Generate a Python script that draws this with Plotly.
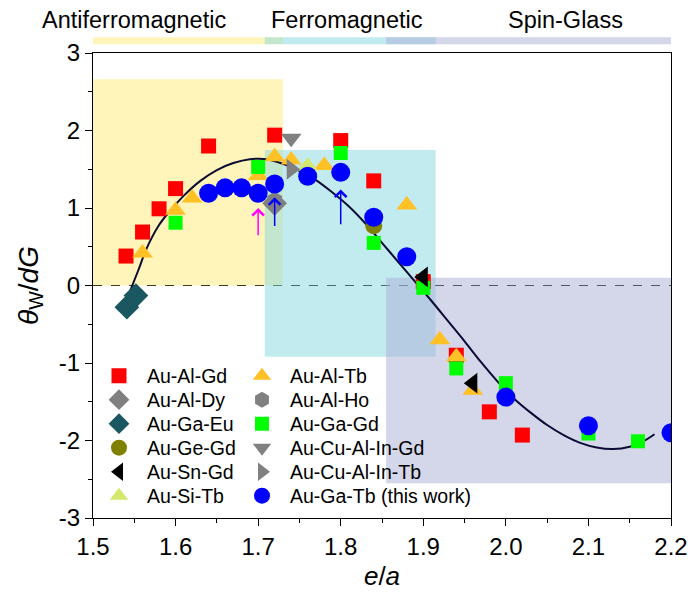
import plotly.graph_objects as go

FONT = "Arial, Liberation Sans, sans-serif"

# ---------------- data ----------------
al_gd_x = [1.54, 1.56, 1.58, 1.60, 1.64, 1.72, 1.80, 1.84, 1.90, 1.94, 1.98, 2.02]
al_gd_y = [0.38, 0.69, 0.99, 1.25, 1.80, 1.94, 1.87, 1.35, 0.05, -0.90, -1.63, -1.93]

al_tb_x = [1.56, 1.60, 1.62, 1.70, 1.72, 1.74, 1.78, 1.88, 1.92, 1.94, 1.96]
al_tb_y = [0.42, 0.97, 1.13, 1.42, 1.66, 1.62, 1.55, 1.04, -0.70, -0.92, -1.35]

al_dy_x = [1.72]
al_dy_y = [1.06]

al_ho_x = [1.72]
al_ho_y = [1.10]

ga_eu_x = [1.541, 1.552]
ga_eu_y = [-0.28, -0.13]

ga_gd_x = [1.60, 1.70, 1.80, 1.84, 1.90, 1.94, 2.00, 2.10, 2.16]
ga_gd_y = [0.81, 1.53, 1.71, 0.55, -0.03, -1.07, -1.26, -1.91, -2.01]

ge_gd_x = [1.84]
ge_gd_y = [0.77]

cu_al_in_gd_x = [1.74]
cu_al_in_gd_y = [1.90]

sn_gd_x = [1.90, 1.96]
sn_gd_y = [0.11, -1.26]

cu_al_in_tb_x = [1.74]
cu_al_in_tb_y = [1.50]

si_tb_x = [1.76]
si_tb_y = [1.54]

ga_tb_x = [1.64, 1.66, 1.68, 1.70, 1.72, 1.76, 1.80, 1.84, 1.88, 2.00, 2.10, 2.20]
ga_tb_y = [1.19, 1.26, 1.26, 1.19, 1.31, 1.41, 1.46, 0.88, 0.37, -1.44, -1.81, -1.90]

# guide curve
curve_x = [1.542, 1.555, 1.565, 1.58, 1.593, 1.61, 1.63, 1.65, 1.67, 1.69, 1.71,
           1.73, 1.75, 1.77, 1.79, 1.81, 1.83, 1.85, 1.87, 1.89, 1.91, 1.93,
           1.95, 1.97, 1.99, 2.01, 2.03, 2.05, 2.07, 2.09, 2.11, 2.13, 2.15,
           2.165, 2.18]
curve_y = [-0.15, 0.20, 0.48, 0.78, 0.96, 1.16, 1.35, 1.49, 1.58, 1.63, 1.63,
           1.57, 1.48, 1.36, 1.20, 1.02, 0.80, 0.55, 0.30, 0.05, -0.20, -0.46,
           -0.72, -0.99, -1.24, -1.46, -1.64, -1.80, -1.93, -2.03, -2.09, -2.11,
           -2.08, -2.02, -1.92]

# arrows (x, tail y, head y, colour)
arrow_x = [1.70, 1.72, 1.80]
arrow_y0 = [0.63, 0.75, 0.77]
arrow_y1 = [1.00, 1.14, 1.24]
arrow_col = ["#FF00FF", "#0000FF", "#0000FF"]

# regions
region_names = ["Antiferromagnetic", "Ferromagnetic", "Spin-Glass"]
region_label_x = [1.550, 1.808, 2.072]
region_x0 = [1.50, 1.708, 1.855]
region_x1 = [1.73, 1.915, 2.20]
region_y0 = [0.0, -0.92, -2.55]
region_y1 = [2.66, 1.75, 0.10]
region_col = ["#FFEB75", "#85D7E1", "#A9ADD3"]

x_ticks = [1.5, 1.6, 1.7, 1.8, 1.9, 2.0, 2.1, 2.2]
x_tick_labels = ["1.5", "1.6", "1.7", "1.8", "1.9", "2.0", "2.1", "2.2"]
y_ticks = [-3, -2, -1, 0, 1, 2, 3]
y_tick_labels = ["-3", "-2", "-1", "0", "1", "2", "3"]

# legend layout: two columns of six
legend_col1 = ["Au-Al-Gd", "Au-Al-Dy", "Au-Ga-Eu", "Au-Ge-Gd", "Au-Sn-Gd", "Au-Si-Tb"]
legend_col2 = ["Au-Al-Tb", "Au-Al-Ho", "Au-Ga-Gd", "Au-Cu-Al-In-Gd", "Au-Cu-Al-In-Tb",
               "Au-Ga-Tb (this work)"]

# ---------------- figure ----------------
W, H = 691, 599
ML, MR, MT, MB = 93, 20, 53, 81
PW, PH = W - ML - MR, H - MT - MB

fig = go.Figure()

legend_id = {}
for i, n in enumerate(legend_col1 + legend_col2):
    legend_id[n] = "legend" if i == 0 else "legend%d" % (i + 1)


def add(name, x, y, symbol, color, size):
    fig.add_trace(go.Scatter(
        x=x, y=y, mode="markers", name=name, legend=legend_id[name],
        marker=dict(symbol=symbol, color=color, size=size, line=dict(width=0)),
        cliponaxis=True))


fig.add_trace(go.Scatter(x=curve_x, y=curve_y, mode="lines", showlegend=False,
                         line=dict(color="#0B0B35", width=2, shape="spline")))

add("Au-Al-Gd", al_gd_x, al_gd_y, "square", "#FF0000", 15)
add("Au-Al-Tb", al_tb_x, al_tb_y, "triangle-up", "#FFC125", 18)
add("Au-Ga-Gd", ga_gd_x, ga_gd_y, "square", "#00FF00", 14)
add("Au-Si-Tb", si_tb_x, si_tb_y, "triangle-up", "#D4E86C", 18)
add("Au-Al-Dy", al_dy_x, al_dy_y, "diamond", "#808080", 19)
add("Au-Al-Ho", al_ho_x, al_ho_y, "hexagon", "#808080", 17)
add("Au-Ga-Eu", ga_eu_x, ga_eu_y, "diamond", "#1B5761", 19)
add("Au-Ge-Gd", ge_gd_x, ge_gd_y, "circle", "#808000", 17)
add("Au-Cu-Al-In-Gd", cu_al_in_gd_x, cu_al_in_gd_y, "triangle-down", "#808080", 18)
add("Au-Cu-Al-In-Tb", cu_al_in_tb_x, cu_al_in_tb_y, "triangle-right", "#808080", 18)
add("Au-Sn-Gd", sn_gd_x, sn_gd_y, "triangle-left", "#000000", 18)
add("Au-Ga-Tb (this work)", ga_tb_x, ga_tb_y, "circle", "#0000FF", 19)

shapes = []
for x0, x1, y0, y1, c in zip(region_x0, region_x1, region_y0, region_y1, region_col):
    shapes.append(dict(type="rect", xref="x", yref="y", x0=x0, x1=x1, y0=y0, y1=y1,
                       fillcolor=c, opacity=0.5, line=dict(width=0), layer="below"))
    shapes.append(dict(type="rect", xref="x", yref="paper", x0=x0, x1=x1, y0=1.019, y1=1.034,
                       fillcolor=c, opacity=0.5, line=dict(width=0), layer="below"))
shapes.append(dict(type="line", xref="paper", yref="y", x0=0, x1=1, y0=0, y1=0,
                   line=dict(color="#000000", width=1, dash="dash"), layer="below"))

annotations = []
for name, lx in zip(region_names, region_label_x):
    annotations.append(dict(text=name, x=lx, y=1.072, xref="x", yref="paper",
                            showarrow=False, font=dict(family=FONT, size=23.5, color="black"),
                            xanchor="center", yanchor="middle"))
for ax_, a0, a1, c in zip(arrow_x, arrow_y0, arrow_y1, arrow_col):
    annotations.append(dict(x=ax_, y=a1, ax=ax_, ay=a0, xref="x", yref="y",
                            axref="x", ayref="y", showarrow=True, arrowhead=4,
                            arrowsize=1.5, arrowwidth=1.5, arrowcolor=c, text=""))

axis_common = dict(showline=True, linecolor="black", linewidth=1, mirror=True,
                   ticks="outside", ticklen=7, tickwidth=1, tickcolor="black",
                   showgrid=False, zeroline=False, automargin=False,
                   tickfont=dict(family=FONT, size=24, color="black"))

layout = dict(
    width=W, height=H,
    margin=dict(l=ML, r=MR, t=MT, b=MB),
    plot_bgcolor="white", paper_bgcolor="white",
    shapes=shapes, annotations=annotations,
    xaxis=dict(range=[1.5, 2.2], tickvals=x_ticks, ticktext=x_tick_labels,
               minor=dict(dtick=0.05, ticks="outside", ticklen=4, tickcolor="black"),
               title=dict(text="<i>e</i>/<i>a</i>", font=dict(family=FONT, size=26, color="black"),
                          standoff=8),
               **axis_common),
    yaxis=dict(range=[-3, 3], tickvals=y_ticks, ticktext=y_tick_labels,
               minor=dict(dtick=0.5, ticks="outside", ticklen=4, tickcolor="black"),
               title=dict(text="<i>θ</i><sub>W</sub>/<i>dG</i>",
                          font=dict(family=FONT, size=28, color="black"), standoff=12),
               **axis_common),
)

# one legend box per entry, placed on a 2 x 6 grid
row_center_px = [376, 400, 424, 448, 472, 496]
col_symbol_px = [119, 262]
ITEMW = 46
sym_off = 5 + ITEMW / 2
for ci, col in enumerate([legend_col1, legend_col2]):
    for ri, n in enumerate(col):
        left = col_symbol_px[ci] - sym_off
        layout[legend_id[n]] = dict(
            x=(left - ML) / PW, y=(H - MB - row_center_px[ri]) / PH,
            xanchor="left", yanchor="middle", bgcolor="rgba(0,0,0,0)",
            itemwidth=ITEMW, borderwidth=0,
            font=dict(family=FONT, size=19.5, color="black"))

fig.update_layout(**layout)
fig.write_html("out.html")
